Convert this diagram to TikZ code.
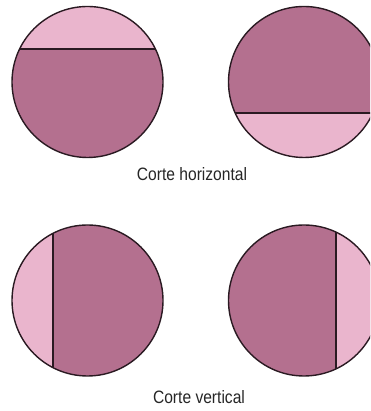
\documentclass[tikz,border=0pt]{standalone}
\usepackage{fontspec}
\setmainfont{Liberation Sans}
\definecolor{darkmauve}{HTML}{B4708F}
\definecolor{lightmauve}{HTML}{EAB5CD}
\definecolor{edge}{HTML}{2A1A22}
\tikzset{
  disc/.style={fill=darkmauve},
  part/.style={fill=lightmauve},
  outline/.style={draw=edge, line width=1.4pt},
  cut/.style={draw=edge, line width=1.3pt},
  caption/.style={anchor=base, inner sep=0pt, font=\fontsize{15.6}{18}\selectfont, text=black!85}
}
\begin{document}
\begin{tikzpicture}[x=1pt,y=1pt]
\useasboundingbox (0,0) rectangle (370,411);
\clip (0,0) rectangle (370,411);
\def\R{75.5}
% top-left: horizontal cut near top
\begin{scope}
  \fill[disc] (87.5,329) circle (\R);
  \begin{scope}
    \clip (87.5,329) circle (\R);
    \fill[part] (0,362) rectangle (180,420);
    \draw[cut] (0,362) -- (180,362);
  \end{scope}
  \draw[outline] (87.5,329) circle (\R);
\end{scope}
% top-right: horizontal cut near bottom
\begin{scope}
  \fill[disc] (304,329) circle (\R);
  \begin{scope}
    \clip (304,329) circle (\R);
    \fill[part] (220,240) rectangle (390,298);
    \draw[cut] (220,298) -- (390,298);
  \end{scope}
  \draw[outline] (304,329) circle (\R);
\end{scope}
% bottom-left: vertical cut near left
\begin{scope}
  \fill[disc] (87.5,110.5) circle (\R);
  \begin{scope}
    \clip (87.5,110.5) circle (\R);
    \fill[part] (0,30) rectangle (53,200);
    \draw[cut] (53,30) -- (53,200);
  \end{scope}
  \draw[outline] (87.5,110.5) circle (\R);
\end{scope}
% bottom-right: vertical cut near right
\begin{scope}
  \fill[disc] (304,110.5) circle (\R);
  \begin{scope}
    \clip (304,110.5) circle (\R);
    \fill[part] (336,30) rectangle (390,200);
    \draw[cut] (336,30) -- (336,200);
  \end{scope}
  \draw[outline] (304,110.5) circle (\R);
\end{scope}
\node[caption] (h) at (192,230) {\scalebox{1}[1.15]{Corte horizontal}};
\node[caption] (v) at (199,7) {\scalebox{1}[1.15]{Corte vertical}};
\end{tikzpicture}
\end{document}
